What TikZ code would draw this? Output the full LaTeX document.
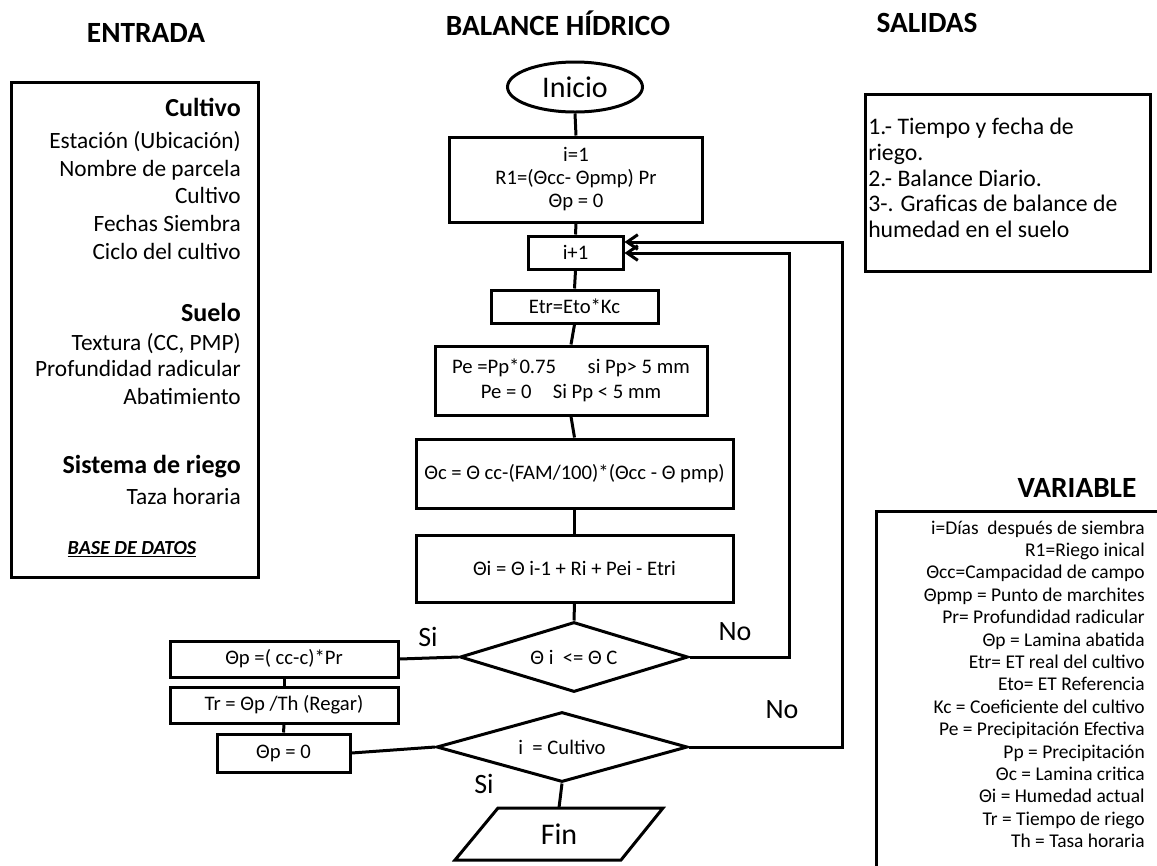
\documentclass[tikz,border=0pt]{standalone}
\usepackage{fontspec}
\setmainfont{Carlito}
\usetikzlibrary{shapes.geometric,arrows.meta}
\newcommand\fsz[2]{\fontsize{#1}{#2}\selectfont}
\begin{document}
\begin{tikzpicture}[x=0.75pt,y=-0.75pt,
  every node/.style={inner sep=0pt},
  ln/.style={line width=2.25pt},
  sz/.style 2 args={minimum width=#1*0.75pt,minimum height=#2*0.75pt},
  fbox/.style={draw,ln,rectangle,align=center,font=\fsz{15.5}{17.25}},
  dia/.style={draw,ln,diamond,aspect=3.4,align=center,font=\fsz{15.5}{18}},
  ttl/.style={font=\bfseries\fsz{22}{26}},
  lbl/.style={font=\fsz{21}{25}},
  inp/.style={anchor=base east,font=\fsz{17.5}{21}},
  inh/.style={anchor=base east,font=\bfseries\fsz{19.5}{23}},
  outl/.style={anchor=base west,font=\fsz{17.8}{20}},
  varl/.style={anchor=base east,font=\fsz{14.6}{17}},
  conn/.style={ln},
  arr/.style={ln,-{Straight Barb[length=8pt,width=11pt,line width=2.25pt]}}
]
\useasboundingbox[fill=white] (0,0) rectangle (1157,865);

% titles
\node[ttl] (tent) at (146,33) {ENTRADA};
\node[ttl] (tbal) at (558,23) {BALANCE HÍDRICO};
\node[ttl] (tsal) at (927,23) {SALIDAS};
\node[ttl] (tvar) at (1077,488) {VARIABLE};

% ENTRADA box
\node[draw,ln,sz={247}{495}] (ent) at (134.5,329.5) {};
\node[inh] (e1) at (241,116) {Cultivo};
\foreach \y/\t [count=\k] in {148/{Estación (Ubicación)},176/{Nombre de parcela},203/{Cultivo},231/{Fechas Siembra},259/{Ciclo del cultivo}}
  \node[inp,name=ea\k] at (241,\y) {\t};
\node[inh] (e2) at (241,321) {Suelo};
\foreach \y/\t [count=\k] in {350/{Textura (CC, PMP)},376/{Profundidad radicular},404/{Abatimiento}}
  \node[inp,name=eb\k] at (241,\y) {\t};
\node[inh] (e3) at (241,473) {Sistema de riego};
\node[inp] (e4) at (241,504) {Taza horaria};
\node[anchor=base,font=\bfseries\itshape\fsz{15}{18}] (bd) at (132,554) {\underline{BASE DE DATOS}};

% SALIDAS box
\node[draw,ln,sz={285}{177}] (sal) at (1007.5,182.5) {};
\foreach \y/\t [count=\k] in {134/{1.- Tiempo y fecha de},160/{riego.},186/{2.- Balance Diario.},211/{3-. Graficas de balance de},237/{humedad en el suelo}}
  \node[outl,name=s\k] at (868,\y) {\t};

% VARIABLE box
\draw[ln] (1170,511) -- (876,511) -- (876,880);
\coordinate (vb) at (876,511);
\foreach \t [count=\k from 0] in {{i=Días\ \ después de siembra},{R1=Riego inical},{Θcc=Campacidad de campo},{Θpmp = Punto de marchites},{Pr= Profundidad radicular},{Θp = Lamina abatida},{Etr= ET real del cultivo},{Eto= ET Referencia},{Kc = Coeficiente del cultivo},{Pe = Precipitación Efectiva},{Pp = Precipitación},{Θc = Lamina critica},{Θi = Humedad actual},{Tr = Tiempo de riego},{Th = Tasa horaria}}
  \node[varl,name=v\k] at (1145,534+22.4*\k) {\t};

% flowchart
\node[draw,ln,ellipse,sz={135}{50},font=\fsz{22.5}{26}] (ini) at (575,87) {Inicio};
\node[fbox,sz={253}{85}] (b1) at (576,179.5) {i=1\\R1=(Θcc- Θpmp) Pr\\Θp = 0};
\node[fbox,sz={95}{33}] (inc) at (575.5,252.5) {i+1};
\node[fbox,sz={167}{33}] (etr) at (574.5,306.5) {Etr=Eto*Kc};
\node[fbox,sz={272}{69},font=\fsz{15.5}{18.5}] (pe) at (571,380.5) {Pe =Pp*0.75\hspace{1.3em} si Pp> 5 mm\\Pe = 0\hspace{0.8em} Si Pp < 5 mm};
\node[fbox,sz={317}{69}] (tc) at (574.5,473.5) {Θc = Θ cc-(FAM/100)*(Θcc - Θ pmp)};
\node[fbox,sz={317}{67}] (ti) at (574.5,568.5) {Θi = Θ i-1 + Ri + Pei - Etri};
\node[dia,sz={228}{70}] (d1) at (574,657) {Θ i\ \ <= Θ C};
\node[dia,sz={251}{70}] (d2) at (562,747) {i\ \ = Cultivo};
\node[fbox,sz={228}{36}] (pcc) at (284,659) {Θp =( cc-c)*Pr};
\node[fbox,sz={228}{36}] (trb) at (284,705) {Tr = Θp /Th (Regar)};
\node[fbox,sz={133}{38}] (p0) at (283.5,753) {Θp = 0};
\node[sz={120}{52},font=\fsz{22.5}{26}] (fin) at (559,834) {Fin};
\draw[ln,line join=miter] (455,860) -- (498,808) -- (663,808) -- (621,860) -- cycle;

% connectors
\draw[conn] (ini.south) -- (b1.north);
\draw[conn] (b1.south) -- (inc.north);
\draw[conn] (inc.south) -- (etr.north);
\draw[conn] (etr.south) -- (pe.north);
\draw[conn] (pe.south) -- (tc.north);
\draw[conn] (tc.south) -- (ti.north);
\draw[conn] (ti.south) -- (d1.north);
\draw[conn] (d1.west) -- (pcc.east);
\draw[conn] (pcc.south) -- (trb.north);
\draw[conn] (trb.south) -- (p0.north);
\draw[conn] (d2.west) -- (p0.east);
\draw[conn] (d2.south) -- (fin.north);
\coordinate (l1) at (789,253);
\coordinate (l2) at (842,242);
\draw[arr,line join=miter] (d1.east) -| (l1) -- (l1 -| inc.east);
\draw[arr,line join=miter] (d2.east) -| (l2) -- (l2 -| inc.east);

% labels
\node[lbl] (si1) at (428,637) {Si};
\node[lbl] (si2) at (484,784) {Si};
\node[lbl] (no1) at (735,632) {No};
\node[lbl] (no2) at (782,710) {No};
\end{tikzpicture}
\end{document}
